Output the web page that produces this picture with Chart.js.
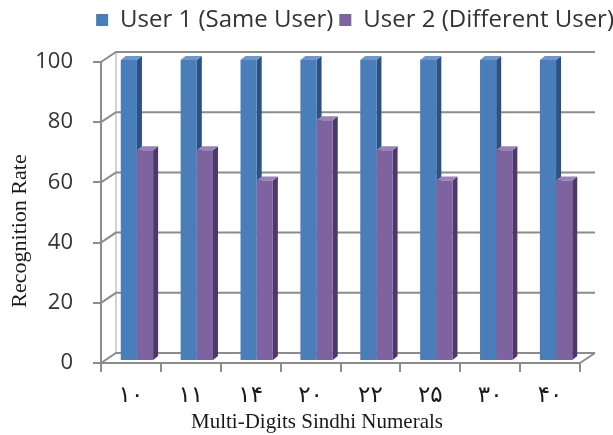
<!DOCTYPE html>
<html>
<head>
<meta charset="utf-8">
<script src="https://cdn.jsdelivr.net/npm/chart.js@4/dist/chart.umd.min.js"></script>
<style>
  html, body { margin: 0; padding: 0; background: #ffffff; }
  canvas { display: block; }
</style>
</head>
<body>
<canvas id="chart" width="613" height="435"></canvas>
<script>
// Multi-digit Sindhi numerals and recognition rates (%)
const categories = ['۱۰', '۱۱', '۱۴', '۲۰', '۲۲', '۲۵', '۳۰', '۴۰'];
const sameUser = [100, 100, 100, 100, 100, 100, 100, 100];
const differentUser = [70, 70, 60, 80, 70, 60, 70, 60];
const seriesNames = ['User 1 (Same User)', 'User 2 (Different User)'];
const yTickValues = [0, 20, 40, 60, 80, 100];

const yTitle = 'Recognition Rate';
const xTitle = 'Multi-Digits Sindhi Numerals';

// pseudo-3D geometry
const WALL = { dx: 15, dy: -10 };              // depth of walls and floor
const BAR = { tx: 6, ty: -2, dx: 5, dy: -4 };  // bar position inside the depth and bar thickness
const GRID = '#8c8c8c';
const faceColors = [
  { front: '#4a7ebb', side: '#2c5283', top: '#6d97cc' },
  { front: '#7f63a1', side: '#4d3969', top: '#9a82b8' }
];

function poly(ctx, pts, fill) {
  ctx.beginPath();
  ctx.moveTo(pts[0][0], pts[0][1]);
  for (let i = 1; i < pts.length; i++) ctx.lineTo(pts[i][0], pts[i][1]);
  ctx.closePath();
  ctx.fillStyle = fill;
  ctx.fill();
}

const threeD = {
  id: 'threeD',
  beforeDatasetsDraw(chart) {
    const { ctx, chartArea: a, scales: { y } } = chart;
    ctx.save();
    // back wall left edge
    ctx.strokeStyle = '#c4c4c4';
    ctx.lineWidth = 1.5;
    ctx.beginPath();
    ctx.moveTo(a.left + WALL.dx, y.getPixelForValue(100) + WALL.dy);
    ctx.lineTo(a.left + WALL.dx, y.getPixelForValue(0) + WALL.dy);
    ctx.stroke();
    // side wall diagonals and back wall gridlines
    ctx.strokeStyle = GRID;
    ctx.lineWidth = 2;
    yTickValues.forEach(v => {
      const py = y.getPixelForValue(v);
      ctx.beginPath();
      ctx.moveTo(a.left, py);
      ctx.lineTo(a.left + WALL.dx, py + WALL.dy);
      ctx.lineTo(a.right + WALL.dx, py + WALL.dy);
      ctx.stroke();
    });
    // floor right edge
    const py0 = y.getPixelForValue(0);
    ctx.beginPath();
    ctx.moveTo(a.right, py0);
    ctx.lineTo(a.right + WALL.dx, py0 + WALL.dy);
    ctx.stroke();

    // side and top faces of the columns (fronts are drawn by the bar controller)
    chart.data.datasets.forEach((ds, di) => {
      const meta = chart.getDatasetMeta(di);
      const c = faceColors[di];
      meta.data.forEach(bar => {
        const p = bar.getProps(['x', 'y', 'base', 'width'], true);
        const L = p.x - p.width / 2 + BAR.tx;
        const R = p.x + p.width / 2 + BAR.tx;
        const T = p.y + BAR.ty;
        const B = p.base + BAR.ty;
        poly(ctx, [[R, T], [R + BAR.dx, T + BAR.dy], [R + BAR.dx, B + BAR.dy], [R, B]], c.side);
        poly(ctx, [[L, T], [L + BAR.dx, T + BAR.dy], [R + BAR.dx, T + BAR.dy], [R, T]], c.top);
      });
    });
    ctx.restore();
  },
  beforeDatasetDraw(chart) {
    chart.ctx.save();
    chart.ctx.translate(BAR.tx, BAR.ty);
  },
  afterDatasetDraw(chart) {
    chart.ctx.restore();
  },
  afterDraw(chart) {
    const { ctx } = chart;
    ctx.save();
    ctx.fillStyle = '#1a1a1a';
    ctx.textAlign = 'center';
    ctx.textBaseline = 'middle';
    ctx.font = '21px "Liberation Serif", "Times New Roman", serif';
    ctx.fillText(xTitle, 317, 422);
    ctx.font = '22px "Liberation Serif", "Times New Roman", serif';
    ctx.translate(20, 231);
    ctx.rotate(-Math.PI / 2);
    ctx.fillText(yTitle, 0, 0);
    ctx.restore();
  }
};

Chart.defaults.font.family = '"Open Sans", "Liberation Sans", sans-serif';
Chart.defaults.color = '#404040';

new Chart(document.getElementById('chart'), {
  type: 'bar',
  data: {
    labels: categories,
    datasets: [
      { label: seriesNames[0], data: sameUser, backgroundColor: faceColors[0].front, borderWidth: 0 },
      { label: seriesNames[1], data: differentUser, backgroundColor: faceColors[1].front, borderWidth: 0 }
    ]
  },
  options: {
    responsive: false,
    animation: false,
    clip: false,
    layout: { padding: { top: 2, left: 0, right: -7, bottom: 0 } },
    datasets: { bar: { categoryPercentage: 0.54, barPercentage: 1.0 } },
    plugins: {
      tooltip: { enabled: false },
      legend: {
        position: 'top',
        align: 'end',
        labels: {
          boxWidth: 12,
          boxHeight: 12,
          padding: 6,
          color: '#333333',
          font: { size: 24 }
        }
      }
    },
    scales: {
      x: {
        grid: { offset: true, drawOnChartArea: false, drawTicks: true, tickLength: 9, color: GRID, lineWidth: 2 },
        border: { display: true, color: GRID, width: 2 },
        ticks: { padding: 10, color: '#1a1a1a', font: { family: '"DejaVu Sans", sans-serif', size: 23 } },
        afterFit(s) { s.height = 72; }
      },
      xTop: {
        type: 'linear',
        position: 'top',
        display: true,
        grid: { display: false },
        border: { display: false },
        ticks: { display: false },
        afterFit(s) { s.height = 20; }
      },
      y: {
        min: 0,
        max: 100,
        afterBuildTicks(s) { s.ticks = yTickValues.map(v => ({ value: v })); },
        grid: { drawOnChartArea: false, drawTicks: true, tickLength: 8, color: GRID, lineWidth: 2 },
        border: { display: true, color: GRID, width: 2 },
        ticks: { padding: 20, color: '#333333', font: { size: 22 } },
        afterFit(s) { s.width = 101; }
      },
      yRight: {
        type: 'linear',
        position: 'right',
        display: true,
        grid: { display: false },
        border: { display: false },
        ticks: { display: false },
        afterFit(s) { s.width = 40; }
      }
    }
  },
  plugins: [threeD]
});
</script>
</body>
</html>
